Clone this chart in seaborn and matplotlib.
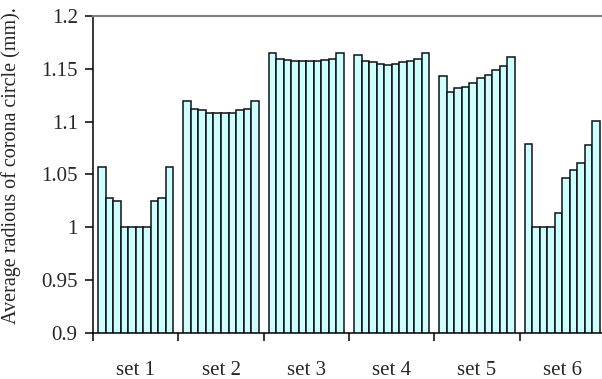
import matplotlib
matplotlib.use("Agg")
import matplotlib.pyplot as plt
import numpy as np
import pandas as pd
import seaborn as sns
from matplotlib.ticker import FixedLocator, FuncFormatter

# Ten measurements per set
sets = ["set 1", "set 2", "set 3", "set 4", "set 5", "set 6"]
set1 = [1.057, 1.028, 1.025, 1.000, 1.000, 1.000, 1.000, 1.025, 1.028, 1.057]
set2 = [1.120, 1.112, 1.111, 1.108, 1.108, 1.108, 1.108, 1.111, 1.112, 1.120]
set3 = [1.165, 1.159, 1.158, 1.157, 1.157, 1.157, 1.157, 1.158, 1.159, 1.165]
set4 = [1.163, 1.157, 1.156, 1.155, 1.154, 1.155, 1.156, 1.157, 1.159, 1.165]
set5 = [1.143, 1.128, 1.132, 1.133, 1.137, 1.141, 1.144, 1.149, 1.153, 1.161]
set6 = [1.079, 1.000, 1.000, 1.000, 1.014, 1.047, 1.054, 1.061, 1.078, 1.101]
y_ticks = [0.9, 0.95, 1.0, 1.05, 1.1, 1.15, 1.2]

series = [set1, set2, set3, set4, set5, set6]
df = pd.DataFrame(
    [(s, i, v) for s, vals in zip(sets, series) for i, v in enumerate(vals)],
    columns=["set", "run", "radius"],
)

sns.set_theme(style="white")
plt.rcParams["font.family"] = ["Liberation Serif", "DejaVu Serif"]

fig = plt.figure(figsize=(6.02, 3.79), dpi=100)
W, H = 602, 379
ax = fig.add_axes([93 / W, (H - 333) / H, (605 - 93) / W, (333 - 16) / H])

sns.barplot(
    data=df, x="set", y="radius", hue="run",
    palette=["#ccffff"] * 10, saturation=1, width=0.88,
    edgecolor="#111111", linewidth=1.1, legend=False, ax=ax,
)

ax.set_ylim(0.9, 1.2)
ax.set_xlim(-0.5, 5.5)
ax.yaxis.set_major_locator(FixedLocator(y_ticks))
ax.yaxis.set_major_formatter(FuncFormatter(lambda v, _: f"{v:g}"))

# Boundary ticks between sets, labels centred on each set
ax.xaxis.set_major_locator(FixedLocator(np.arange(-0.5, 6.0, 1.0)))
ax.xaxis.set_major_formatter(FuncFormatter(lambda v, _: ""))
ax.xaxis.set_minor_locator(FixedLocator(np.arange(len(sets))))
ax.xaxis.set_minor_formatter(FuncFormatter(lambda v, _: sets[int(round(v))]))
ax.tick_params(axis="x", which="major", direction="out", length=6, width=1.1,
               color="black", bottom=True)
ax.tick_params(axis="x", which="minor", length=0, pad=20, labelsize=15,
               bottom=True)
ax.tick_params(axis="y", direction="out", length=6, width=1.1, color="black",
               left=True, labelsize=15, pad=5)

ax.set_xlabel("")
ax.set_ylabel("Average radious of corona circle (mm).", fontsize=14.5)
ax.yaxis.set_label_coords(-0.14, 0.527)

for side in ("left", "bottom"):
    ax.spines[side].set_color("black")
    ax.spines[side].set_linewidth(1.1)
ax.spines["top"].set_color("#808080")
ax.spines["top"].set_linewidth(1.5)
ax.spines["right"].set_visible(False)
ax.grid(False)

fig.savefig("out.png", dpi=100)
